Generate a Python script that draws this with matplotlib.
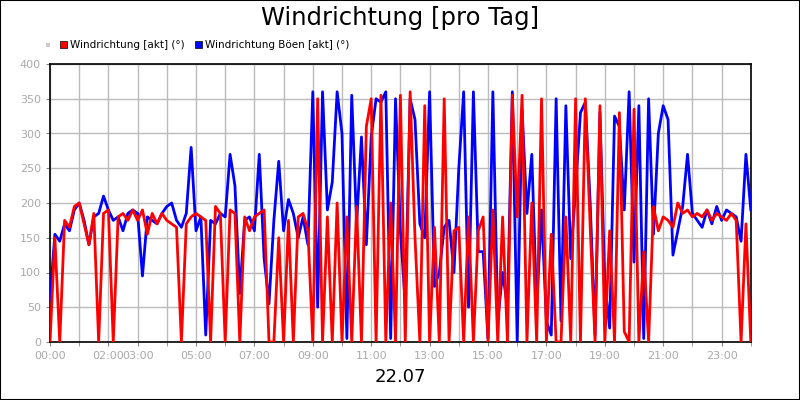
import numpy as np
import matplotlib
matplotlib.use('Agg')
import matplotlib.pyplot as plt
from matplotlib.patches import Rectangle

# 10-minute samples from 00:00 to 24:00
gust_dir = [
    60, 155, 145, 170, 160, 190,
    200, 175, 140, 180, 185, 210,
    190, 175, 180, 160, 185, 190,
    185, 95, 180, 175, 170, 185,
    195, 200, 175, 165, 185, 280,
    160, 180, 10, 175, 170, 185,
    180, 270, 225, 70, 175, 180,
    160, 270, 120, 55, 175, 260,
    160, 205, 185, 150, 180, 140,
    360, 50, 360, 190, 230, 360,
    300, 5, 355, 170, 295, 140,
    295, 350, 345, 360, 5, 350,
    160, 55, 350, 320, 170, 150,
    360, 80, 100, 165, 175, 100,
    250, 360, 50, 360, 130, 130,
    5, 360, 30, 100, 50, 360,
    0, 335, 185, 270, 50, 190,
    30, 10, 350, 30, 340, 120,
    220, 330, 345, 200, 10, 330,
    85, 20, 325, 310, 190, 360,
    115, 340, 5, 350, 155, 300,
    340, 320, 125, 160, 195, 270,
    185, 175, 165, 190, 170, 195,
    175, 190, 185, 180, 145, 270,
    190,
]
wind_dir = [
    0, 150, 0, 175, 165, 195,
    200, 170, 140, 185, 0, 185,
    190, 0, 180, 185, 175, 190,
    175, 190, 155, 185, 170, 185,
    175, 170, 165, 0, 170, 180,
    185, 180, 175, 0, 195, 185,
    0, 190, 185, 0, 180, 160,
    180, 185, 190, 0, 0, 150,
    0, 175, 0, 180, 185, 160,
    0, 350, 0, 180, 0, 200,
    0, 180, 0, 195, 0, 310,
    350, 0, 355, 0, 200, 0,
    355, 0, 360, 150, 0, 340,
    0, 165, 0, 350, 0, 160,
    165, 0, 180, 0, 160, 180,
    0, 190, 0, 180, 0, 355,
    180, 355, 0, 200, 0, 350,
    0, 155, 0, 0, 180, 0,
    350, 0, 350, 165, 0, 340,
    0, 160, 0, 330, 15, 0,
    335, 0, 130, 0, 195, 160,
    180, 175, 165, 200, 185, 190,
    180, 185, 180, 190, 175, 185,
    180, 175, 185, 175, 0, 170,
    0,
]
tick_hours = [0, 2, 3, 5, 7, 9, 11, 13, 15, 17, 19, 21, 23]
tick_labels = ['%02d:00' % h for h in tick_hours]
date_label = '22.07'

hours = np.arange(len(wind_dir)) / 6.0

fig = plt.figure(figsize=(8, 4), dpi=100)
fig.patches.append(Rectangle((0, 0), 1, 1, transform=fig.transFigure,
                             fill=False, edgecolor='black', linewidth=1.5))
ax = fig.add_axes([0.0625, 0.145, 0.876, 0.695])

ax.plot(hours, gust_dir, color='#0000ff', linewidth=2, zorder=3)
ax.plot(hours, wind_dir, color='#ff0000', linewidth=2, zorder=4)

ax.set_xlim(0, 24)
ax.set_ylim(0, 400)
ax.set_xticks(range(25), minor=True)
ax.set_xticks(tick_hours)
ax.set_xticklabels(tick_labels)
ax.set_yticks(range(0, 401, 50))
ax.grid(True, which='both', color='#bbbbbb', linewidth=1, zorder=0)
ax.tick_params(which='both', length=3, color='#888888', labelcolor='#aaaaaa', labelsize=8)
for s in ax.spines.values():
    s.set_linewidth(1.2)

fig.text(0.5, 0.955, 'Windrichtung [pro Tag]', ha='center', va='center', fontsize=17.5)
fig.text(0.5, 0.058, date_label, ha='center', va='center', fontsize=13)

# legend row
fig.patches.append(Rectangle((0.058, 0.882), 0.005, 0.01, transform=fig.transFigure,
                             facecolor='#cccccc', edgecolor='none'))
fig.patches.append(Rectangle((0.075, 0.879), 0.009, 0.018, transform=fig.transFigure,
                             facecolor='#ff0000', edgecolor='black', linewidth=0.5))
fig.text(0.087, 0.888, 'Windrichtung [akt] (°)', va='center', fontsize=7.5)
fig.patches.append(Rectangle((0.244, 0.879), 0.009, 0.018, transform=fig.transFigure,
                             facecolor='#0000ff', edgecolor='black', linewidth=0.5))
fig.text(0.256, 0.888, 'Windrichtung Böen [akt] (°)', va='center', fontsize=7.5)

fig.savefig('out.png', dpi=100)
